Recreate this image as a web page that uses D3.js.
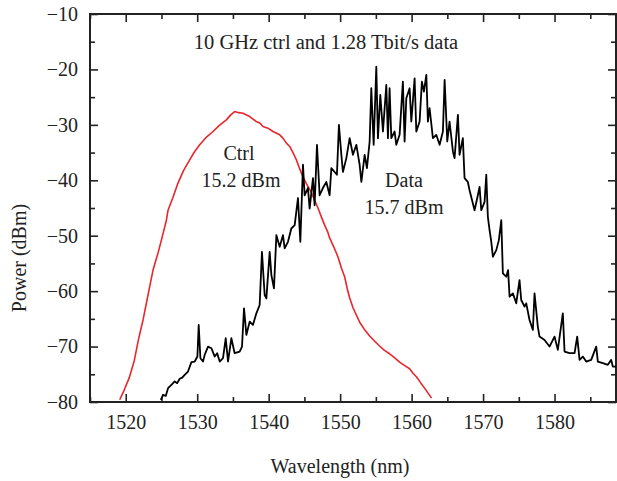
<!DOCTYPE html>
<html><head><meta charset="utf-8">
<script src="https://cdn.jsdelivr.net/npm/d3@7"></script>
<style>
html,body{margin:0;padding:0;background:#fff;}
text{font-family:"Liberation Serif","DejaVu Serif",serif;fill:#222;}
</style></head>
<body><svg id="c" width="617" height="481"></svg>
<script>
// ---- data ----
const xTicks = [1520, 1530, 1540, 1550, 1560, 1570, 1580];
const yTicks = [-80, -70, -60, -50, -40, -30, -20, -10];
const ctrlWavelength = [1519.16,1519.8,1520.5,1521.2,1521.8,1522.42,1523.1,1523.82,1524.52,1524.99,1525.69,1525.92,1526.6,1527.31,1528.1,1528.95,1529.6,1530.35,1531.3,1532.21,1533.1,1534.08,1534.7,1535.24,1535.8,1536.41,1537.34,1538.28,1538.8,1539.2,1539.9,1540.6,1541.54,1542.0,1542.48,1542.94,1543.4,1543.87,1544.3,1544.8,1545.4,1545.9,1546.43,1546.9,1547.37,1547.8,1548.29,1548.53,1549.1,1549.69,1550.2,1550.63,1551.0,1551.33,1551.8,1552.3,1552.73,1553.4,1554.13,1554.8,1555.52,1556.2,1556.92,1557.6,1558.32,1559.0,1559.72,1560.2,1560.7,1561.3,1561.82,1562.3,1562.8];
const ctrlPower = [-79.6,-77.8,-75.6,-72.5,-68.6,-65.2,-60.8,-56.2,-53.1,-50.8,-47.2,-45.4,-43.1,-40.5,-38.2,-36.3,-34.9,-33.6,-32.2,-31.2,-30.1,-29.1,-28.2,-27.6,-27.8,-27.9,-28.5,-29.4,-29.7,-30.3,-30.6,-31.2,-31.8,-32.4,-33.3,-33.9,-35.0,-36.3,-37.8,-39.4,-40.9,-42.0,-43.6,-45.0,-46.6,-48.0,-49.4,-50.4,-52.0,-53.8,-55.9,-57.4,-59.6,-61.2,-63.0,-64.4,-65.6,-66.9,-68.1,-69.0,-69.9,-70.7,-71.3,-72.0,-72.8,-73.4,-74.0,-74.8,-75.5,-76.6,-77.5,-78.4,-79.3];
const dataWavelength = [1524.9,1525.22,1525.6,1525.92,1526.39,1526.85,1527.2,1527.55,1527.9,1528.25,1528.71,1529.19,1529.65,1530.03,1530.21,1530.45,1530.81,1531.05,1531.51,1531.99,1532.45,1532.8,1533.15,1533.61,1533.99,1534.31,1534.78,1535.24,1535.94,1536.27,1536.55,1536.88,1537.34,1537.8,1538.28,1538.74,1539.06,1539.44,1539.68,1540.14,1540.38,1540.74,1541.08,1541.54,1542.0,1542.24,1542.7,1543.17,1543.64,1544.1,1544.43,1544.8,1545.03,1545.5,1545.73,1546.2,1546.43,1546.76,1547.13,1547.59,1548.07,1548.53,1548.77,1549.23,1549.55,1549.83,1550.17,1550.39,1550.87,1551.33,1551.79,1552.27,1552.73,1552.97,1553.43,1553.75,1554.13,1554.36,1554.69,1555.06,1555.29,1555.62,1555.99,1556.46,1556.69,1556.92,1557.16,1557.62,1557.86,1558.32,1558.78,1559.02,1559.26,1559.72,1559.96,1560.42,1560.66,1561.12,1561.44,1561.72,1562.06,1562.28,1562.52,1562.98,1563.45,1563.92,1564.38,1564.62,1564.99,1565.31,1565.78,1566.01,1566.48,1566.71,1567.17,1567.41,1567.87,1568.11,1568.81,1569.27,1569.51,1569.75,1570.21,1570.45,1570.67,1570.91,1571.15,1571.37,1571.85,1572.21,1572.55,1572.77,1573.24,1573.5,1573.71,1574.17,1574.64,1575.1,1575.34,1575.8,1576.04,1576.5,1576.97,1577.2,1577.66,1577.9,1578.6,1579.3,1580.0,1580.46,1581.16,1581.4,1582.1,1582.8,1583.17,1583.5,1583.96,1584.43,1585.13,1585.83,1586.06,1586.76,1587.45,1587.93,1588.15,1588.6];
const dataPower = [-79.6,-78.7,-78.9,-77.5,-76.9,-76.3,-76.6,-75.8,-75.6,-75.1,-74.5,-72.8,-72.7,-71.8,-66.1,-72.1,-72.7,-71.5,-70.0,-70.3,-71.8,-71.2,-72.7,-72.1,-68.5,-72.7,-68.5,-71.2,-70.9,-70.0,-63.1,-67.9,-65.5,-66.1,-64.0,-62.5,-52.9,-60.7,-61.3,-52.9,-57.1,-59.5,-49.9,-52.0,-49.9,-52.3,-51.1,-48.7,-48.1,-43.2,-51.1,-37.2,-42.7,-41.4,-45.1,-39.6,-44.5,-33.6,-42.7,-41.4,-40.3,-42.7,-37.8,-38.5,-39.0,-30.0,-35.4,-38.5,-36.0,-32.4,-35.4,-33.6,-37.2,-40.3,-35.4,-37.8,-33.0,-23.4,-33.6,-19.5,-32.4,-24.6,-31.2,-22.8,-32.4,-23.4,-32.4,-31.2,-33.6,-31.8,-22.2,-33.0,-25.2,-23.4,-29.4,-21.6,-31.2,-29.4,-22.2,-24.0,-21.0,-29.4,-27.0,-32.4,-31.8,-33.6,-31.2,-21.9,-33.0,-29.4,-34.8,-36.0,-28.2,-35.4,-32.4,-39.6,-40.3,-41.8,-45.4,-42.7,-41.2,-45.4,-43.9,-39.0,-46.6,-49.0,-51.1,-53.8,-52.6,-50.8,-47.2,-56.8,-57.4,-56.2,-61.0,-60.4,-62.2,-58.0,-61.6,-62.8,-62.2,-65.2,-67.0,-60.4,-66.4,-68.2,-68.8,-70.0,-68.2,-70.6,-64.0,-70.9,-71.2,-71.2,-68.2,-72.4,-71.8,-72.7,-72.4,-70.0,-72.7,-73.0,-73.3,-72.4,-73.6,-73.6];

// ---- layout ----
const svg = d3.select("#c");
const L = 90, R = 616, T = 14, B = 402;
const x = d3.scaleLinear().domain([1515, 1588.6]).range([L, R]);
const y = d3.scaleLinear().domain([-80, -10]).range([B, T]);
const tickFont = 20;

const minorX = d3.range(1515, 1589, 5).filter(v => v % 10 !== 0);
const minorY = d3.range(-75, -10, 10);

function axisGroup(axis, tx, ty) {
  const g = svg.append("g").attr("transform", `translate(${tx},${ty})`).call(axis);
  g.select(".domain").remove();
  g.selectAll("line").attr("stroke", "#222").attr("stroke-width", 1.6);
  return g;
}
// bottom major (labels) + minor
const bx = axisGroup(d3.axisBottom(x).tickValues(xTicks).tickSizeInner(-8).tickSizeOuter(0).tickPadding(13).tickFormat(d3.format("d")), 0, B);
bx.selectAll("text").attr("font-size", tickFont).attr("font-family", "Liberation Serif").attr("fill", "#222");
axisGroup(d3.axisBottom(x).tickValues(minorX).tickSizeInner(-5).tickSizeOuter(0).tickFormat(""), 0, B);
// top
axisGroup(d3.axisTop(x).tickValues(xTicks).tickSizeInner(-8).tickSizeOuter(0).tickFormat(""), 0, T);
axisGroup(d3.axisTop(x).tickValues(minorX).tickSizeInner(-5).tickSizeOuter(0).tickFormat(""), 0, T);
// left
const ly = axisGroup(d3.axisLeft(y).tickValues(yTicks).tickSizeInner(-8).tickSizeOuter(0).tickPadding(12).tickFormat(d => "\u2212" + Math.abs(d)), L, 0);
ly.selectAll("text").attr("font-size", tickFont).attr("font-family", "Liberation Serif").attr("fill", "#222");
axisGroup(d3.axisLeft(y).tickValues(minorY).tickSizeInner(-5).tickSizeOuter(0).tickFormat(""), L, 0);
// right
axisGroup(d3.axisRight(y).tickValues(yTicks).tickSizeInner(-8).tickSizeOuter(0).tickFormat(""), R, 0);
axisGroup(d3.axisRight(y).tickValues(minorY).tickSizeInner(-5).tickSizeOuter(0).tickFormat(""), R, 0);

// frame
svg.append("rect").attr("x", L).attr("y", T).attr("width", R - L).attr("height", B - T)
  .attr("fill", "none").attr("stroke", "#222").attr("stroke-width", 2);

// lines
const line = d3.line().x(d => x(d[0])).y(d => y(d[1]));
svg.append("path").datum(d3.zip(ctrlWavelength, ctrlPower)).attr("d", line)
  .attr("fill", "none").attr("stroke", "#e8262b").attr("stroke-width", 1.6).attr("stroke-linejoin", "round");
svg.append("path").datum(d3.zip(dataWavelength, dataPower)).attr("d", line)
  .attr("fill", "none").attr("stroke", "#000").attr("stroke-width", 1.8).attr("stroke-linejoin", "round");

// texts
const t = (s, xx, yy, size, anchor) => svg.append("text").attr("x", xx).attr("y", yy)
  .attr("font-size", size).attr("text-anchor", anchor || "middle").text(s);
t("10 GHz ctrl and 1.28 Tbit/s data", 326, 49, 20.5);
t("Ctrl", 239, 160, 20);
t("15.2 dBm", 241, 186.5, 20);
t("Data", 404, 186.5, 20);
t("15.7 dBm", 404, 214, 20);
t("Wavelength (nm)", 340, 473, 20);
svg.append("text").attr("transform", "translate(26,258) rotate(-90)").attr("text-anchor", "middle")
  .attr("font-size", 20).text("Power (dBm)");
</script></body></html>
